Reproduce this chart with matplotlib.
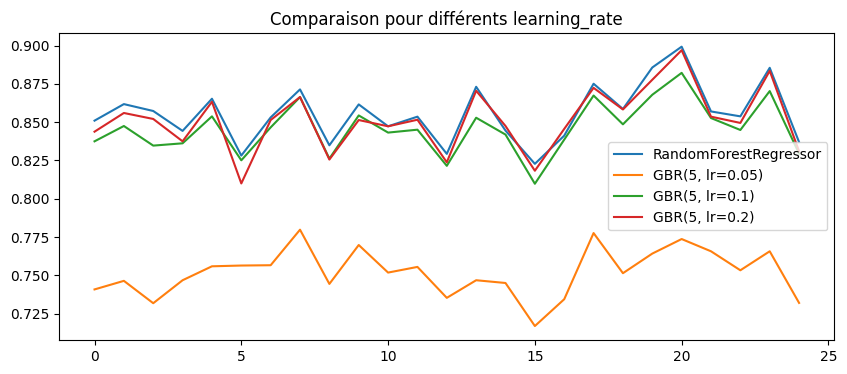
import numpy as np
import matplotlib
matplotlib.use("Agg")
import matplotlib.pyplot as plt

# Scores, one value per run (0..24)
rf = [0.8510, 0.8618, 0.8573, 0.8443, 0.8653, 0.8282, 0.8531, 0.8714, 0.8349, 0.8616,
      0.8473, 0.8536, 0.8293, 0.8731, 0.8445, 0.8228, 0.8412, 0.8751, 0.8586, 0.8857,
      0.8993, 0.8570, 0.8538, 0.8855, 0.8370]
gbr_005 = [0.7408, 0.7464, 0.7318, 0.7468, 0.7559, 0.7564, 0.7566, 0.7798, 0.7444, 0.7698,
           0.7518, 0.7555, 0.7353, 0.7468, 0.7450, 0.7169, 0.7344, 0.7776, 0.7514, 0.7642,
           0.7737, 0.7657, 0.7533, 0.7657, 0.7320]
gbr_01 = [0.8375, 0.8475, 0.8347, 0.8362, 0.8538, 0.8251, 0.8466, 0.8664, 0.8262, 0.8544,
          0.8432, 0.8451, 0.8215, 0.8529, 0.8419, 0.8098, 0.8386, 0.8674, 0.8486, 0.8679,
          0.8822, 0.8527, 0.8449, 0.8703, 0.8295]
gbr_02 = [0.8438, 0.8560, 0.8521, 0.8375, 0.8633, 0.8100, 0.8514, 0.8664, 0.8256, 0.8514,
          0.8473, 0.8516, 0.8238, 0.8705, 0.8475, 0.8183, 0.8456, 0.8724, 0.8583, 0.8777,
          0.8970, 0.8536, 0.8495, 0.8835, 0.8310]

labels = ["RandomForestRegressor", "GBR(5, lr=0.05)", "GBR(5, lr=0.1)", "GBR(5, lr=0.2)"]

fig = plt.figure(figsize=(8.47, 3.74), dpi=100)
ax = fig.add_axes([59.3 / 847, 34 / 374, 775 / 847, 307.3 / 374])

for serie, lab in zip([rf, gbr_005, gbr_01, gbr_02], labels):
    ax.plot(np.arange(len(serie)), serie, label=lab)

ax.set_title("Comparaison pour différents learning_rate")
ax.legend(loc="center right")

fig.savefig("out.png", dpi=100)
